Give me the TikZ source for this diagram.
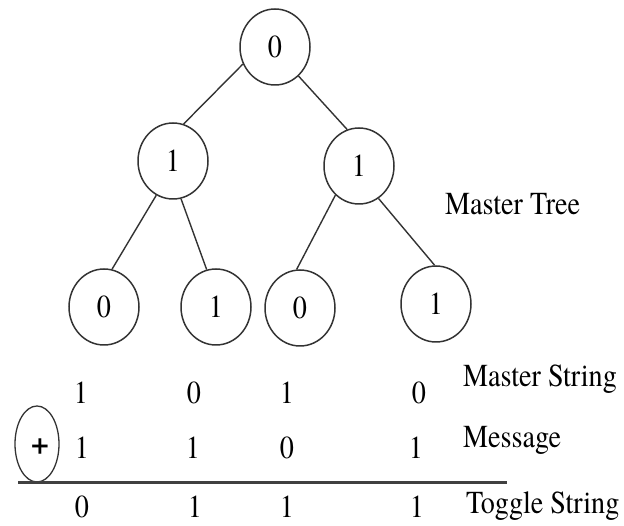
\documentclass[tikz,border=0pt]{standalone}
\usepackage{fontspec}
\setmainfont{texgyretermes}[Extension=.otf,UprightFont=*-regular,BoldFont=*-bold]
\usetikzlibrary{shapes.geometric}
\newcommand{\nrw}[1]{\scalebox{0.88}[1]{#1}}
\begin{document}
\begin{tikzpicture}[x=1pt,y=-1pt,
  bit/.style={draw=black!80,line width=1.5pt,ellipse,minimum width=70pt,minimum height=76pt,inner sep=0pt,font=\fontsize{32}{32}\selectfont},
  edge/.style={draw=black!80,line width=1.4pt},
  dig/.style={inner sep=0pt,font=\fontsize{32}{32}\selectfont},
  lab/.style={inner sep=0pt,anchor=base west,font=\fontsize{32}{32}\selectfont}]
\useasboundingbox (0,0) rectangle (624,526);
% tree
\node[bit] (R) at (275,47) {\nrw{0}};
\node[bit] (A) at (173,161) {\nrw{1}};
\node[bit] (B) at (359,166) {\nrw{1}};
\node[bit] (L1) at (104,307) {\nrw{0}};
\node[bit] (L2) at (216,307) {\nrw{1}};
\node[bit] (L3) at (300,308) {\nrw{0}};
\node[bit] (L4) at (436,304) {\nrw{1}};
\draw[edge] (R.208) -- (A.74);
\draw[edge] (R.-51) -- (B.108);
\draw[edge] (A.244) -- (L1.78);
\draw[edge] (A.282) -- (L2.104);
\draw[edge] (B.231) -- (L3.95);
\draw[edge] (B.-59) -- (L4.92);
\node[lab] (mt) at (445,215) {\nrw{Master Tree}};
% strings
\node[dig] (m1) at (81,393) {\nrw{1}};
\node[dig] (m2) at (194,393) {\nrw{0}};
\node[dig] (m3) at (287,393) {\nrw{1}};
\node[dig] (m4) at (419,393) {\nrw{0}};
\node[dig] (g1) at (82,448) {\nrw{1}};
\node[dig] (g2) at (193,448) {\nrw{1}};
\node[dig] (g3) at (287,448) {\nrw{0}};
\node[dig] (g4) at (416,448) {\nrw{1}};
\node[dig] (t1) at (82,507) {\nrw{0}};
\node[dig] (t2) at (195,507) {\nrw{1}};
\node[dig] (t3) at (287,507) {\nrw{1}};
\node[dig] (t4) at (417,507) {\nrw{1}};
\node[lab] (ms) at (463,387) {\nrw{Master String}};
\node[lab] (msg) at (463,448) {\nrw{Message}};
\node[lab] (ts) at (466,513) {\nrw{Toggle String}};
% xor circle and rule
\node[draw=black!80,line width=1.3pt,ellipse,minimum width=44pt,minimum height=76pt,inner sep=0pt] (op) at (37,444) {};
\node[inner sep=0pt,font=\fontsize{32}{32}\selectfont\bfseries] (plus) at (40,447) {+};
\coordinate (ls) at (18,482);
\coordinate (le) at (507,482);
\draw[black!75,line width=3pt] (ls) -- (le);
\end{tikzpicture}
\end{document}
